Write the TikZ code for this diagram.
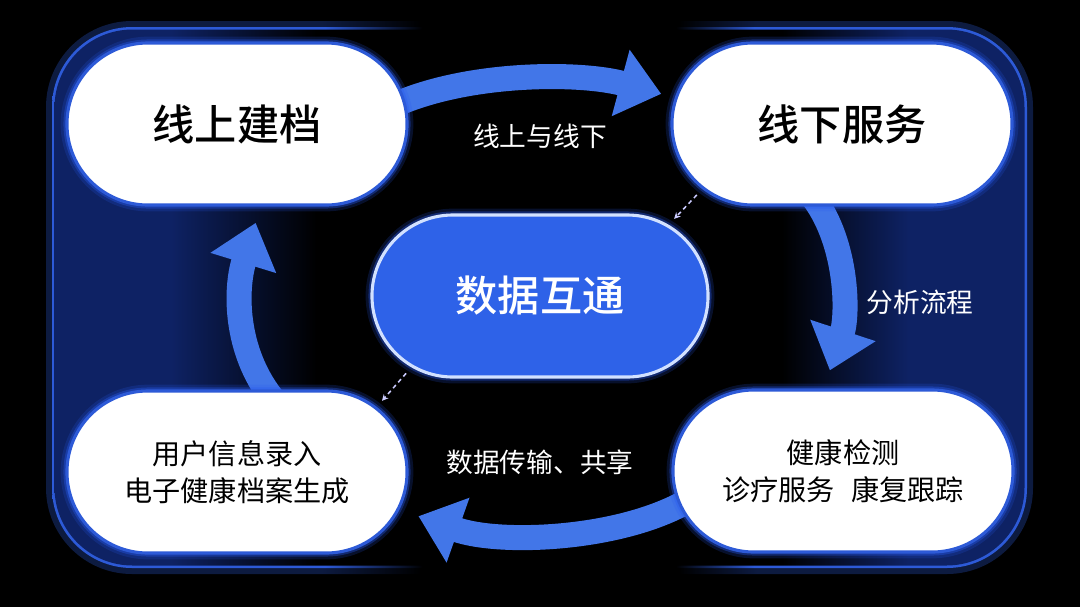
\documentclass[tikz,border=0pt]{standalone}
\usepackage{fontspec}
\usepackage{tikz}
\usetikzlibrary{arrows.meta,shapes.misc}
\newfontfamily\cjk{Noto Sans CJK SC}
\newfontfamily\cjkmed{Noto Sans CJK SC}[UprightFont={* Medium}]
\definecolor{panelNavy}{RGB}{14,34,100}
\definecolor{edgeBlue}{RGB}{45,90,215}
\definecolor{flowBlue}{RGB}{66,118,232}
\definecolor{hubBlue}{RGB}{46,98,232}
\definecolor{hubEdge}{RGB}{210,225,255}
\definecolor{glowBlue}{RGB}{40,90,240}
\pgfdeclarelayer{bg}
\pgfsetlayers{bg,main}
\pgfdeclarehorizontalshading{panelfill}{100bp}{color(0bp)=(panelNavy); color(25bp)=(panelNavy); color(31bp)=(panelNavy); color(38.5bp)=(black); color(62.5bp)=(black); color(69bp)=(panelNavy); color(75bp)=(panelNavy); color(100bp)=(panelNavy)}
\pgfdeclarehorizontalshading{panelring}{100bp}{color(0bp)=(edgeBlue); color(25bp)=(edgeBlue); color(39bp)=(edgeBlue); color(44bp)=(black); color(57bp)=(black); color(61bp)=(edgeBlue); color(75bp)=(edgeBlue); color(100bp)=(edgeBlue)}

\begin{document}
\begin{tikzpicture}[x=0.025cm, y=-0.025cm,
    stage/.style={rounded rectangle, minimum width=8.5cm, minimum height=4.05cm, inner sep=0pt,
      fill=white, draw=edgeBlue, line width=2.2pt, text=black, align=center,
      preaction={draw=glowBlue, line width=9pt, opacity=0.18},
      preaction={draw=glowBlue, line width=5pt, opacity=0.35}},
    title/.style={font=\cjkmed\fontsize{30}{36}\selectfont},
    body/.style={font=\cjk\fontsize{20}{26.5}\selectfont},
    tag/.style={text=white, font=\cjk\fontsize{19}{23}\selectfont},
    flow/.style={draw=flowBlue, line width=17.8pt, -{Triangle[length=1.05cm, width=1.65cm]}, shorten <=-0.25cm},
    dashline/.style={draw=white!80!blue, line width=1.1pt, dash pattern=on 3pt off 2.5pt,
      -{Stealth[length=4.5pt, width=4.5pt]}, shorten <=0.2cm, shorten >=0.2cm}]
    \useasboundingbox (0,0) rectangle (1080,607);
    \begin{pgfonlayer}{bg}
        \fill[black] (0,0) rectangle (1080,607);
        \shade[shading=panelring, rounded corners=2.15cm, opacity=0.3] (46,21) rectangle (1033,574);
        \shade[shading=panelring, rounded corners=2cm] (52,27) rectangle (1027,568);
        \shade[shading=panelfill, rounded corners=1.95cm] (54.5,29.5) rectangle (1024.5,565.5);
    \end{pgfonlayer}

    \node[stage, title] (online) at (237,124) {线上建档};
    \node[stage, title] (offline) at (842,124) {线下服务};
    \node[stage, body] (record) at (237,472) {用户信息录入\\电子健康档案生成};
    \node[stage, body] (service) at (843,471) {健康检测\\诊疗服务\hspace{0.6em}康复跟踪};
    \node[stage, title, fill=hubBlue, draw=hubEdge, text=white, minimum width=8.4cm] (hub) at (540,296) {数据互通};

    \begin{pgfonlayer}{bg}
        \draw[flow, shorten >=0.35cm] (online.8) .. controls (470,72) and (580,72) .. (offline.171);
        \draw[flow, shorten >=0.475cm] (offline.255) .. controls (848,245) and (848,315) .. (service.103);
        \draw[flow, shorten >=0.5cm] (service.192) .. controls (620,540) and (500,545) .. (record.347);
        \draw[flow, shorten >=0.425cm] (record.71) .. controls (235,350) and (235,290) .. (online.286);
    \end{pgfonlayer}

    \draw[dashline] (offline.205) -- (hub.29);
    \draw[dashline] (hub.209) -- (record.25);

    \node[tag] (lblLink) at (540,136) {线上与线下};
    \node[tag] (lblFlow) at (920,302) {分析流程};
    \node[tag] (lblShare) at (540,462) {数据传输、共享};
\end{tikzpicture}
\end{document}
